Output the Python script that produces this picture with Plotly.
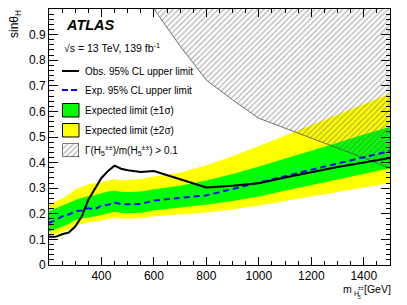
import plotly.graph_objects as go

# ---------------- data ----------------
mass = [200, 225, 250, 275, 300, 325, 350, 375, 400, 425, 450, 475, 500, 550,
        600, 700, 800, 900, 1000, 1100, 1200, 1300, 1400, 1500]
observed = [0.110, 0.110, 0.120, 0.127, 0.150, 0.190, 0.255, 0.300, 0.340, 0.367,
            0.388, 0.376, 0.370, 0.363, 0.367, 0.335, 0.303, 0.310, 0.319, 0.342,
            0.364, 0.383, 0.400, 0.418]
expected = [0.165, 0.175, 0.190, 0.197, 0.210, 0.213, 0.222, 0.218, 0.232, 0.235,
            0.244, 0.238, 0.237, 0.238, 0.252, 0.262, 0.272, 0.297, 0.323, 0.347,
            0.372, 0.396, 0.420, 0.445]
plus1 = [0.211, 0.221, 0.230, 0.242, 0.254, 0.263, 0.270, 0.273, 0.280, 0.287,
         0.290, 0.286, 0.285, 0.287, 0.296, 0.310, 0.330, 0.355, 0.385, 0.415,
         0.447, 0.478, 0.510, 0.540]
minus1 = [0.130, 0.139, 0.150, 0.160, 0.176, 0.182, 0.187, 0.189, 0.196, 0.203,
          0.208, 0.203, 0.202, 0.204, 0.213, 0.225, 0.235, 0.250, 0.268, 0.290,
          0.312, 0.334, 0.356, 0.378]
plus2 = [0.237, 0.247, 0.260, 0.275, 0.296, 0.305, 0.315, 0.319, 0.323, 0.330,
         0.335, 0.330, 0.332, 0.336, 0.346, 0.360, 0.390, 0.425, 0.465, 0.505,
         0.545, 0.585, 0.628, 0.670]
minus2 = [0.110, 0.118, 0.128, 0.138, 0.152, 0.160, 0.166, 0.169, 0.174, 0.180,
          0.185, 0.182, 0.181, 0.183, 0.190, 0.197, 0.205, 0.217, 0.232, 0.250,
          0.267, 0.285, 0.302, 0.320]
width_mass = [600, 700, 800, 900, 1000, 1100, 1200, 1300, 1400, 1500]
width_limit = [1.000, 0.855, 0.722, 0.645, 0.573, 0.535, 0.497, 0.457, 0.418, 0.378]

x_ticks = [400, 600, 800, 1000, 1200, 1400]

# ---------------- geometry ----------------
# the page body has an 8px margin, so the figure is drawn offset by 8px
W, H = 399, 297
L, R, T, B = 41, 17, 1, 40
# plot area in page pixels: x 49..390, y 9..265
PX0, PX1, PY0, PY1 = 49, 390, 9, 265


def px(x):
    return (x - PX0) / (PX1 - PX0)


def py(y):
    return (PY1 - y) / (PY1 - PY0)


FONT = "Liberation Sans, Arial, Helvetica, sans-serif"
GREEN = "#00ff00"
YELLOW = "#ffff00"
HATCH = dict(shape="/", fgcolor="#686868", bgcolor="rgba(0,0,0,0)", size=4,
             solidity=0.3)

fig = go.Figure()

# 2 sigma band
fig.add_trace(go.Scatter(x=mass, y=minus2, mode="lines", line=dict(width=0),
                         showlegend=False, hoverinfo="skip"))
fig.add_trace(go.Scatter(x=mass, y=plus2, mode="lines", line=dict(width=0),
                         fill="tonexty", fillcolor=YELLOW, showlegend=False,
                         hoverinfo="skip"))
# 1 sigma band
fig.add_trace(go.Scatter(x=mass, y=minus1, mode="lines", line=dict(width=0),
                         showlegend=False, hoverinfo="skip"))
fig.add_trace(go.Scatter(x=mass, y=plus1, mode="lines", line=dict(width=0),
                         fill="tonexty", fillcolor=GREEN, showlegend=False,
                         hoverinfo="skip"))

# hatched width region
hx = width_mass + [width_mass[-1], width_mass[0]]
hy = width_limit + [1.0, 1.0]
fig.add_trace(go.Scatter(x=hx, y=hy, mode="lines", line=dict(width=0),
                         fill="toself", fillcolor="rgba(0,0,0,0)",
                         fillpattern=HATCH, showlegend=False, hoverinfo="skip"))
fig.add_trace(go.Scatter(x=width_mass, y=width_limit, mode="lines",
                         line=dict(color="#505050", width=0.8),
                         showlegend=False, hoverinfo="skip"))

# expected & observed
fig.add_trace(go.Scatter(x=mass, y=expected, mode="lines",
                         line=dict(color="#0000ff", width=2, dash="6px,4px"),
                         showlegend=False))
fig.add_trace(go.Scatter(x=mass, y=observed, mode="lines",
                         line=dict(color="black", width=2),
                         showlegend=False))

# legend hatch box through an auxiliary axis
bx0, bx1, by0, by1 = 62.5, 79, 143.5, 157
fig.add_trace(go.Scatter(x=[0, 1, 1, 0, 0], y=[0, 0, 1, 1, 0], mode="lines",
                         xaxis="x2", yaxis="y2",
                         line=dict(color="black", width=1),
                         fill="toself", fillcolor="rgba(0,0,0,0)",
                         fillpattern=HATCH, showlegend=False, hoverinfo="skip"))

shapes = []
shapes.append(dict(type="line", xref="paper", yref="paper",
                   x0=px(62), x1=px(79), y0=py(71), y1=py(71),
                   line=dict(color="black", width=2)))
shapes.append(dict(type="line", xref="paper", yref="paper",
                   x0=px(62), x1=px(79), y0=py(90), y1=py(90),
                   line=dict(color="#0000ff", width=2, dash="6px,3px")))
for (y0, y1, col) in [(103.5, 117, GREEN), (123.5, 137, YELLOW)]:
    shapes.append(dict(type="rect", xref="paper", yref="paper",
                       x0=px(62.5), x1=px(79), y0=py(y1), y1=py(y0),
                       fillcolor=col, line=dict(color="black", width=1)))

ann = []


def text(x, y, s, size, xanchor="left", yanchor="middle", **kw):
    ann.append(dict(x=px(x), y=py(y), xref="paper", yref="paper", text=s,
                    showarrow=False, xanchor=xanchor, yanchor=yanchor,
                    font=dict(family=FONT, size=size, color="black"), **kw))


text(64, 25, "<b><i>ATLAS</i></b>", 14.5)
text(62, 47, "\u221As = 13 TeV, 139 fb<sup>-1</sup>", 10.5)
text(83, 71, "Obs. 95% CL upper limit", 10)
text(83, 90, "Exp. 95% CL upper limit", 10)
text(83, 110, "Expected limit (\u00b11\u03c3)", 10)
text(83, 130, "Expected limit (\u00b12\u03c3)", 10)
text(83, 150, "\u0393(H<sub>5</sub><sup>\u00b1\u00b1</sup>)/m(H<sub>5</sub><sup>\u00b1\u00b1</sup>) > 0.1", 10)

# y title (rotated about its centre)
text(15, 24, "sin\u03b8<sub>H</sub>", 12, xanchor="center", yanchor="middle",
     textangle=-90, borderpad=0)
# x title
text(391.5, 289, "[GeV]", 10.5, xanchor="right", borderpad=0)
text(353, 289, "m", 10.5, xanchor="right", borderpad=0)
text(352.8, 293, "H", 7, borderpad=0)
text(357, 287.5, "\u00b1\u00b1", 5, borderpad=0)
text(357, 296.5, "5", 5, borderpad=0)

axis_common = dict(showline=True, linecolor="black", linewidth=1,
                   mirror="allticks", ticks="inside", tickcolor="black",
                   tickwidth=1, showgrid=False, zeroline=False,
                   tickfont=dict(family=FONT, size=12, color="black"))

fig.update_layout(
    width=W, height=H,
    margin=dict(l=L, r=R, t=T, b=B, pad=0),
    paper_bgcolor="white", plot_bgcolor="white",
    showlegend=False,
    xaxis=dict(range=[200, 1500], tickvals=x_ticks, ticklen=8,
               minor=dict(tick0=0, dtick=50, ticks="inside", ticklen=4,
                          tickcolor="black", tickwidth=1),
               **axis_common),
    yaxis=dict(range=[0, 1], dtick=0.1, tick0=0, ticklen=9,
               minor=dict(tick0=0, dtick=0.02, ticks="inside", ticklen=4.5,
                          tickcolor="black", tickwidth=1),
               **axis_common),
    xaxis2=dict(domain=[px(bx0), px(bx1)], range=[0, 1], anchor="y2",
                visible=False, fixedrange=True),
    yaxis2=dict(domain=[py(by1), py(by0)], range=[0, 1], anchor="x2",
                visible=False, fixedrange=True),
    shapes=shapes,
    annotations=ann,
)

fig.write_html("out.html")
